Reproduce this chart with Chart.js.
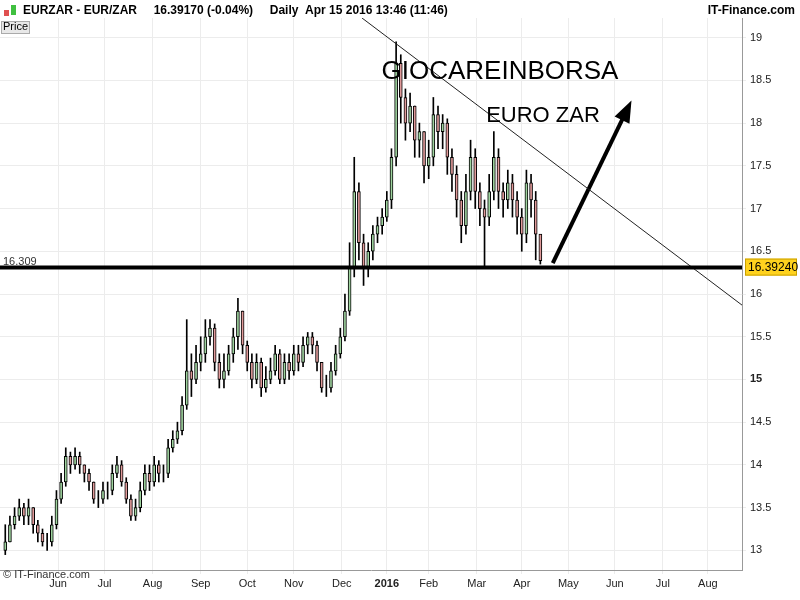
<!DOCTYPE html>
<html>
<head>
<meta charset="utf-8">
<script src="https://cdn.jsdelivr.net/npm/chart.js@4.4.1/dist/chart.umd.min.js"></script>
<style>
  body { margin: 0; background: #fff; }
  #wrap { width: 800px; height: 600px; position: relative; }
</style>
</head>
<body>
<div id="wrap"><canvas id="mycanvas" width="800" height="600"></canvas></div>
<script>
// day numbers counted from 1 May 2015, one candle every 3 days
var startDay = 11, stepDays = 3;
var closes = [13.1,13.3,13.4,13.5,13.4,13.5,13.3,13.2,13.1,13.1,13.3,13.6,13.8,14.1,14.0,14.1,14.0,13.9,13.8,13.6,
  13.6,13.7,13.7,13.9,14.0,13.8,13.6,13.4,13.5,13.7,13.9,13.8,14.0,13.9,13.9,14.2,14.3,14.4,14.7,15.1,
  15.0,15.2,15.3,15.5,15.6,15.2,15.0,15.1,15.3,15.5,15.8,15.4,15.2,15.0,15.2,14.9,15.0,15.1,15.3,15.0,
  15.2,15.1,15.3,15.2,15.4,15.5,15.4,15.2,14.9,14.9,15.1,15.3,15.5,15.8,16.3,17.2,16.6,16.3,16.5,16.7,
  16.8,16.9,17.1,17.6,18.7,18.3,18.0,18.2,17.8,17.9,17.5,17.6,18.1,17.9,18.0,17.6,17.4,17.1,16.8,17.2,
  17.6,17.2,17.0,16.9,17.2,17.6,17.2,17.1,17.3,17.1,16.9,16.7,17.3,17.1,16.7,16.39];
var highs = [13.3,13.4,13.5,13.6,13.55,13.6,13.5,13.35,13.25,13.2,13.4,13.7,13.9,14.2,14.15,14.2,14.15,14.0,13.95,13.8,
  13.7,13.8,13.8,14.0,14.1,14.05,13.85,13.65,13.6,13.8,14.0,14.0,14.1,14.05,14.0,14.3,14.4,14.5,14.8,15.7,
  15.3,15.4,15.5,15.7,15.7,15.65,15.3,15.3,15.4,15.6,15.95,15.8,15.45,15.3,15.3,15.25,15.15,15.25,15.4,15.35,
  15.3,15.3,15.4,15.4,15.5,15.55,15.55,15.45,15.2,15.05,15.2,15.4,15.6,16.0,16.6,17.6,17.3,16.7,16.6,16.8,
  16.9,17.0,17.2,17.7,18.95,18.8,18.4,18.35,18.2,18.0,17.9,17.8,18.3,18.2,18.1,18.05,17.7,17.5,17.2,17.4,
  17.8,17.7,17.3,17.1,17.4,17.9,17.7,17.3,17.45,17.4,17.2,17.0,17.45,17.4,17.2,16.5];
var lows = [12.95,13.1,13.25,13.35,13.3,13.3,13.2,13.1,13.05,13.0,13.05,13.25,13.55,13.75,13.9,13.95,13.9,13.8,13.7,13.55,
  13.5,13.55,13.6,13.65,13.85,13.75,13.55,13.35,13.35,13.45,13.65,13.7,13.75,13.8,13.8,13.85,14.15,14.25,14.35,14.65,
  14.8,14.95,15.1,15.2,15.4,15.1,14.9,14.9,15.05,15.2,15.35,15.3,15.1,14.9,14.95,14.8,14.85,14.95,15.05,14.95,
  14.95,15.0,15.05,15.1,15.15,15.3,15.3,15.1,14.85,14.8,14.85,15.05,15.25,15.45,15.75,16.2,16.4,16.1,16.2,16.4,
  16.6,16.7,16.85,17.0,17.5,18.0,17.8,17.9,17.6,17.6,17.3,17.35,17.5,17.7,17.7,17.4,17.2,16.9,16.6,16.7,
  17.1,17.0,16.8,16.3,16.8,17.1,17.0,16.9,17.0,16.9,16.7,16.5,16.6,16.9,16.4,16.35];
var monthLabels = ['Jun','Jul','Aug','Sep','Oct','Nov','Dec','2016','Feb','Mar','Apr','May','Jun','Jul','Aug'];
var monthMidDays = [45,75,106,137,167,197,228,257,284,315,344,374,404,435,464];
var yTicks = [13,13.5,14,14.5,15,15.5,16,16.5,17,17.5,18,18.5,19];
var supportLevel = 16.309;
var lastPrice = '16.39240';
var trendLine = [{x: 241, y: 19.23}, {x: 486, y: 15.87}];
var arrowLine = [{x: 364, y: 16.36}, {x: 412.5, y: 18.18}];

var wicks = [], ups = [], downs = [];
for (var i = 0; i < closes.length; i++) {
  var d = startDay + i * stepDays;
  var o = i > 0 ? closes[i - 1] : closes[i] - 0.1;
  wicks.push({x: d, y: [lows[i], highs[i]]});
  if (closes[i] >= o) ups.push({x: d, y: [o, closes[i]]});
  else downs.push({x: d, y: [closes[i], o]});
}

var overlay = {
  id: 'overlay',
  afterDatasetsDraw: function(chart) {
    var c = chart.ctx, xs = chart.scales.x, ys = chart.scales.y, a = chart.chartArea;
    c.save();
    // arrow head
    var x1 = xs.getPixelForValue(arrowLine[0].x), y1 = ys.getPixelForValue(arrowLine[0].y);
    var x2 = xs.getPixelForValue(arrowLine[1].x), y2 = ys.getPixelForValue(arrowLine[1].y);
    var ang = Math.atan2(y2 - y1, x2 - x1);
    c.fillStyle = '#000';
    c.beginPath();
    c.moveTo(x2 + Math.cos(ang) * 8, y2 + Math.sin(ang) * 8);
    c.lineTo(x2 + Math.cos(ang + 2.6) * 16, y2 + Math.sin(ang + 2.6) * 16);
    c.lineTo(x2 + Math.cos(ang - 2.6) * 16, y2 + Math.sin(ang - 2.6) * 16);
    c.closePath();
    c.fill();
    // texts
    c.font = '26px "Liberation Sans", Arial';
    c.textAlign = 'center'; c.textBaseline = 'middle';
    c.fillText('GIOCAREINBORSA', 500, 72);
    c.font = '22px "Liberation Sans", Arial';
    c.fillText('EURO ZAR', 543, 116);
    c.font = '11px "Liberation Sans", Arial';
    c.textAlign = 'left'; c.fillStyle = '#333';
    c.fillText(supportLevel.toString(), 3, ys.getPixelForValue(supportLevel) - 6);
    c.fillText('\u00a9 IT-Finance.com', 3, 575);
    // last price label
    var py = ys.getPixelForValue(supportLevel);
    c.fillStyle = '#ffd21e';
    c.fillRect(a.right + 3, py - 9, 52, 17);
    c.strokeStyle = '#c9a000'; c.strokeRect(a.right + 3.5, py - 8.5, 51, 16);
    c.fillStyle = '#000'; c.font = '12px "Liberation Sans", Arial';
    c.fillText(lastPrice, a.right + 6, py);
    // header
    c.fillStyle = '#fff'; c.fillRect(0, 0, 800, a.top);
    c.fillStyle = '#e05050'; c.fillRect(4, 10, 5, 6);
    c.fillStyle = '#40c040'; c.fillRect(11, 5, 5, 10);
    c.fillStyle = '#000'; c.font = 'bold 12px "Liberation Sans", Arial';
    c.fillText('EURZAR - EUR/ZAR     16.39170 (-0.04%)     Daily  Apr 15 2016 13:46 (11:46)', 23, 11);
    c.textAlign = 'right';
    c.fillText('IT-Finance.com', 795, 11);
    c.textAlign = 'left';
    c.fillStyle = '#e8e8e8'; c.fillRect(1, 21, 28, 12);
    c.strokeStyle = '#aaa'; c.strokeRect(1.5, 21.5, 28, 12);
    c.fillStyle = '#000'; c.font = '11px "Liberation Sans", Arial';
    c.fillText('Price', 3, 27);
    c.restore();
  }
};

new Chart(document.getElementById('mycanvas'), {
  data: {
    datasets: [
      {type: 'bar', data: wicks, backgroundColor: '#000', barThickness: 1, grouped: false, order: 3},
      {type: 'bar', data: ups, backgroundColor: '#9fd39f', borderColor: '#000', borderWidth: 1, borderSkipped: false, barThickness: 3, grouped: false, order: 2},
      {type: 'bar', data: downs, backgroundColor: '#e09a9a', borderColor: '#000', borderWidth: 1, borderSkipped: false, barThickness: 3, grouped: false, order: 2},
      {type: 'line', data: [{x: 7.6, y: supportLevel}, {x: 486, y: supportLevel}], borderColor: '#000', borderWidth: 4, pointRadius: 0, order: 1},
      {type: 'line', data: trendLine, borderColor: '#222', borderWidth: 1, pointRadius: 0, order: 1},
      {type: 'line', data: arrowLine, borderColor: '#000', borderWidth: 4, pointRadius: 0, order: 1}
    ]
  },
  options: {
    responsive: false, animation: false,
    layout: {padding: {top: 18}},
    plugins: {legend: {display: false}, tooltip: {enabled: false}},
    scales: {
      x: {
        type: 'linear', min: 7.6, max: 486, offset: false,
        afterBuildTicks: function(s) { s.ticks = monthMidDays.map(function(v) { return {value: v}; }); },
        afterFit: function(s) { s.height = 30; },
        ticks: {
          autoSkip: false, maxRotation: 0, color: '#222',
          font: function(ctx) { return {size: 11, family: '"Liberation Sans", Arial', weight: ctx.index === 7 ? 'bold' : 'normal'}; },
          callback: function(v, i) { return monthLabels[i]; }
        },
        grid: {color: '#ececec', offset: false, tickLength: 4},
        border: {color: '#999'}
      },
      y: {
        position: 'right', min: 12.77, max: 19.23,
        afterBuildTicks: function(s) { s.ticks = yTicks.map(function(v) { return {value: v}; }); },
        afterFit: function(s) { s.width = 58; },
        ticks: {
          color: '#222', padding: 4,
          font: function(ctx) { return {size: 11, family: '"Liberation Sans", Arial', weight: ctx.tick && ctx.tick.value === 15 ? 'bold' : 'normal'}; },
          callback: function(v) { return v.toString(); }
        },
        grid: {color: '#ececec', tickLength: 4},
        border: {color: '#999'}
      }
    }
  },
  plugins: [overlay]
});
</script>
</body>
</html>
